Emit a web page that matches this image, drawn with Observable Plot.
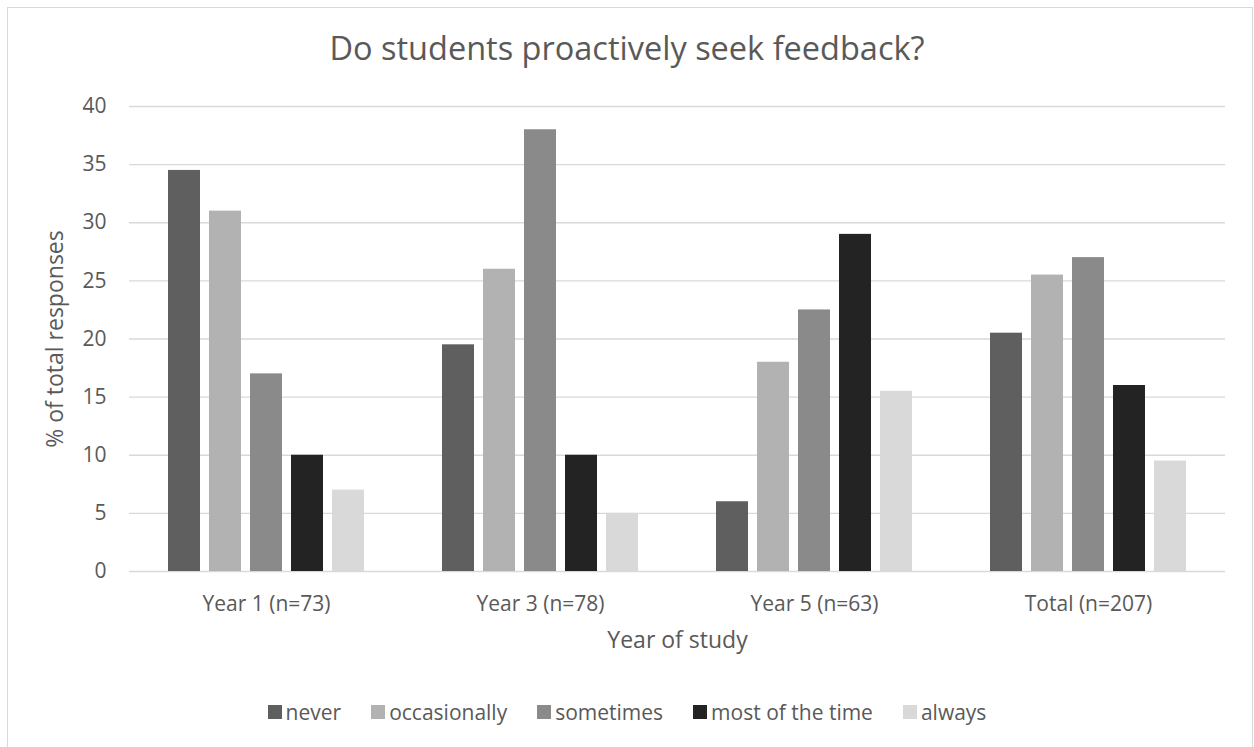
<!DOCTYPE html>
<html>
<head>
<meta charset="utf-8">
<script src="https://cdn.jsdelivr.net/npm/d3@7"></script>
<script src="https://cdn.jsdelivr.net/npm/@observablehq/plot@0.6"></script>
<style>
  html, body { margin: 0; padding: 0; background: #fff; }
  body { width: 1254px; height: 747px; position: relative; overflow: hidden; font-family: "Open Sans", sans-serif; }
  #frame { position: absolute; left: 7px; top: 7px; width: 1246px; height: 800px; border: 1.5px solid #d9d9d9; border-bottom: none; box-sizing: border-box; }
  #title { position: absolute; left: 0; width: 1254px; top: 26px; text-align: center; font-size: 32.5px; color: #595959; line-height: 44px; }
  #chart { position: absolute; left: 0; top: 0; }
  #legend { position: absolute; left: 0; width: 1254px; top: 698px; }
  .leg-swatches-wrap { justify-content: center; min-height: 28px !important; }
  .leg-swatch { margin-right: 30px !important; }
  .leg-swatch:last-child { margin-right: 0 !important; }
  .leg-swatch > svg { margin-right: 4px !important; }
</style>
</head>
<body>
<div id="frame"></div>
<div id="title">Do students proactively seek feedback?</div>
<div id="chart"></div>
<div id="legend"></div>
<script>
const years = ["Year 1 (n=73)", "Year 3 (n=78)", "Year 5 (n=63)", "Total (n=207)"];
const responses = ["never", "occasionally", "sometimes", "most of the time", "always"];
const colors = ["#5f5f5f", "#b2b2b2", "#8a8a8a", "#232323", "#d9d9d9"];
const never = [34.5, 19.5, 6, 20.5];
const occasionally = [31, 26, 18, 25.5];
const sometimes = [17, 38, 22.5, 27];
const mostOfTheTime = [10, 10, 29, 16];
const always = [7, 5, 15.5, 9.5];
const yTicks = [0, 5, 10, 15, 20, 25, 30, 35, 40];

const series = [never, occasionally, sometimes, mostOfTheTime, always];
const data = [];
years.forEach((y, i) => responses.forEach((r, j) => data.push({year: y, response: r, value: series[j][i]})));

const textColor = "#595959";

const chart = Plot.plot({
  width: 1254,
  height: 680,
  marginTop: 106,
  marginBottom: 109,
  marginLeft: 128,
  marginRight: 28,
  style: {fontFamily: "Open Sans", fontSize: "21px", color: textColor, background: "transparent"},
  fx: {domain: years, padding: 0, label: null},
  x: {domain: responses, paddingInner: 0.214, paddingOuter: 0.875, axis: null},
  y: {domain: [0, 40], label: null},
  color: {domain: responses, range: colors},
  marks: [
    Plot.gridY(yTicks, {stroke: "#d9d9d9", strokeOpacity: 1, strokeWidth: 1.3}),
    Plot.barY(data, {fx: "year", x: "response", y: "value", fill: "response"}),
    Plot.axisY(yTicks, {tickSize: 0, tickPadding: 23, label: null, fill: textColor}),
    Plot.axisY({ticks: [], tickSize: 0, label: "% of total responses", labelArrow: false, labelAnchor: "center", labelOffset: 83, fontSize: 23, fill: textColor}),
    Plot.axisFx({anchor: "bottom", tickSize: 0, tickPadding: 25, label: null, fill: textColor}),
    Plot.axisFx({anchor: "bottom", ticks: [], tickSize: 0, label: "Year of study", labelArrow: false, labelAnchor: "center", labelOffset: 76, fontSize: 23, fill: textColor})
  ]
});
document.getElementById("chart").appendChild(chart);

const legend = Plot.legend({
  color: {domain: responses, range: colors},
  legend: "swatches",
  swatchSize: 14,
  className: "leg",
  style: {fontFamily: "Open Sans", fontSize: "21px", color: textColor, justifyContent: "center"}
});
document.getElementById("legend").appendChild(legend);
</script>
</body>
</html>
